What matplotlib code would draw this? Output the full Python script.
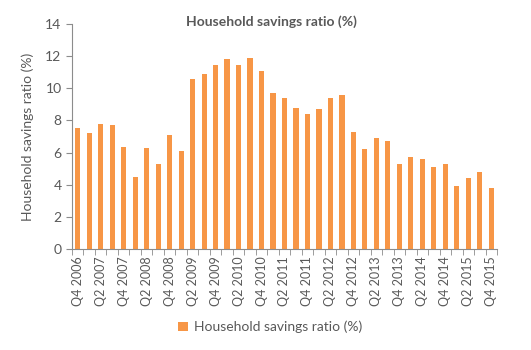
import numpy as np
import matplotlib
matplotlib.use("Agg")
import matplotlib.pyplot as plt

# quarters Q4 2006 .. Q4 2015
quarters = []
for y in range(2006, 2016):
    for q in (1, 2, 3, 4):
        if (y == 2006 and q < 4):
            continue
        quarters.append("Q%d %d" % (q, y))

savings = [7.55, 7.2, 7.8, 7.7, 6.35, 4.5, 6.3, 5.3, 7.1, 6.1,
           10.55, 10.9, 11.45, 11.8, 11.45, 11.9, 11.1,
           9.7, 9.4, 8.77, 8.42, 8.7, 9.4, 9.58, 7.26, 6.2, 6.9, 6.72,
           5.3, 5.74, 5.58, 5.12, 5.3, 3.9, 4.4, 4.77, 3.78]

grey = "#595959"
axis_grey = "#8c8c8c"
orange = "#F79646"

plt.rcParams['font.family'] = ['Lato', 'DejaVu Sans']

fig = plt.figure(figsize=(5.31, 3.5), dpi=100)
ax = fig.add_axes([72/531, 1 - 249/350, (497-72)/531, (249-24)/350])

x = np.arange(len(quarters))
ax.bar(x, savings, width=0.45, color=orange, label="Household savings ratio (%)")

ax.set_xlim(-0.5, len(quarters) - 0.5)
ax.set_ylim(0, 14)
ax.set_yticks(range(0, 15, 2))

# labels on every second quarter
ax.set_xticks(x[::2])
ax.set_xticklabels(quarters[::2], rotation=90, fontsize=9, color=grey)
ax.tick_params(axis='x', which='major', length=0, pad=5)
ax.set_xticks(np.arange(-0.5, len(quarters), 1), minor=True)
ax.tick_params(axis='x', which='minor', length=4, color=axis_grey)
ax.tick_params(axis='y', length=4, color=axis_grey, labelsize=10, labelcolor=grey)

for s in ['top', 'right']:
    ax.spines[s].set_visible(False)
for s in ['left', 'bottom']:
    ax.spines[s].set_color(axis_grey)

ax.set_ylabel("Household savings ratio (%)", fontsize=10, color=grey, labelpad=8)

fig.text(271/531, 1 - 22/350, "Household savings ratio (%)", ha='center', va='center',
         fontsize=10, fontweight='bold', color=grey)

fig.legend(loc='center', bbox_to_anchor=(270/531, 1 - 327/350), frameon=False,
           fontsize=10, labelcolor=grey, handlelength=0.7, handleheight=0.7,
           handletextpad=0.4)

fig.savefig("out.png", dpi=100)
